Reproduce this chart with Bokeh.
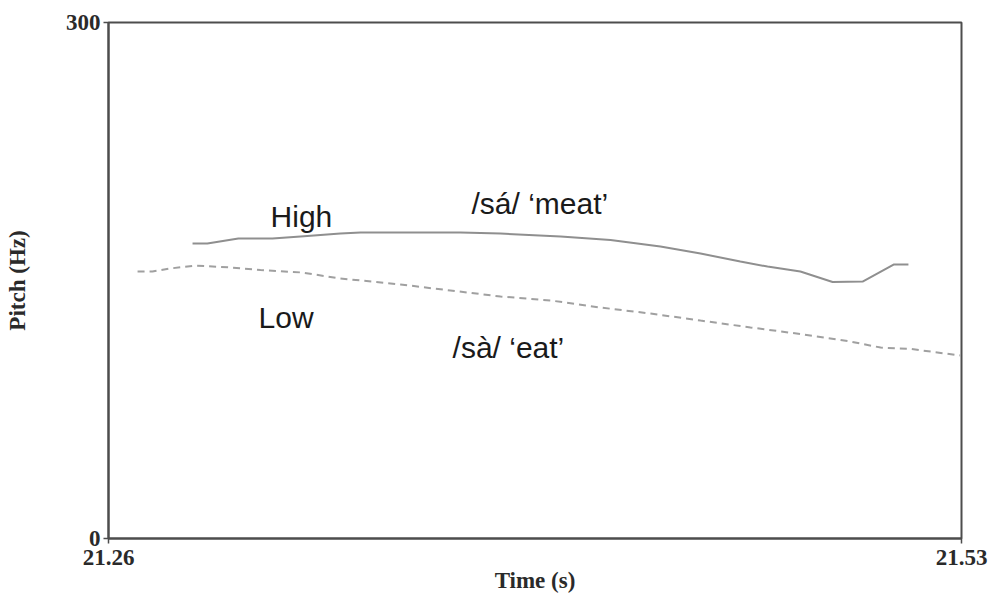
from bokeh.plotting import figure
from bokeh.models import FixedTicker, NumeralTickFormatter, Range1d, Label
from bokeh.embed import file_html
from bokeh.resources import INLINE

# High tone /sá/ 'meat' (solid) : time (s), pitch (Hz)
high_t = [21.2866, 21.2913, 21.3011, 21.3119, 21.3208, 21.3334, 21.3398, 21.3714,
          21.3841, 21.4031, 21.4189, 21.4347, 21.4474, 21.4600, 21.4686, 21.4790,
          21.4892, 21.4987, 21.5085, 21.5132]
high_f = [171.5, 171.5, 174.4, 174.4, 175.6, 177.3, 177.9, 177.9,
          177.3, 175.6, 173.5, 169.8, 165.7, 161.0, 158.1, 155.2,
          149.1, 149.4, 159.3, 159.3]

# Low tone /sà/ 'eat' (dashed)
low_t = [21.2692, 21.2739, 21.2796, 21.2875, 21.2986, 21.3081, 21.3208, 21.3334,
         21.3524, 21.3682, 21.3841, 21.3999, 21.4157, 21.4316, 21.4474, 21.4632,
         21.4790, 21.4949, 21.5044, 21.5139, 21.5297]
low_f = [155.2, 155.2, 157.0, 158.7, 157.6, 156.1, 154.7, 151.2,
         147.7, 144.2, 140.7, 138.4, 134.3, 130.8, 126.7, 122.7,
         118.9, 114.5, 111.0, 110.2, 106.4]

x_ticks = [21.26, 21.53]
y_ticks = [0, 300]

p = figure(width=988, height=598, output_backend="svg", toolbar_location=None,
           x_range=Range1d(21.26, 21.53), y_range=Range1d(0, 300),
           min_border_left=108, min_border_top=22, min_border_right=27, min_border_bottom=60)
p.grid.visible = False
p.background_fill_color = "white"
p.border_fill_color = "white"
p.outline_line_color = "#4d4d4d"
p.outline_line_width = 2

for ax in (p.xaxis[0], p.yaxis[0]):
    ax.axis_line_color = "#4d4d4d"
    ax.axis_line_width = 2
    ax.major_tick_line_color = "#4d4d4d"
    ax.major_tick_line_width = 1.5
    ax.major_tick_in = 0
    ax.major_tick_out = 5
    ax.minor_tick_line_color = None
    ax.major_label_text_font = "Liberation Serif"
    ax.major_label_text_font_size = "23px"
    ax.major_label_text_font_style = "bold"
    ax.major_label_text_color = "#2a2a2a"
    ax.axis_label_text_font = "Liberation Serif"
    ax.axis_label_text_font_size = "23px"
    ax.axis_label_text_font_style = "bold"
    ax.axis_label_text_color = "#2a2a2a"

p.xaxis.ticker = FixedTicker(ticks=x_ticks)
p.xaxis.formatter = NumeralTickFormatter(format="0.00")
p.xaxis.major_label_standoff = 6
p.xaxis.axis_label = "Time (s)"
p.xaxis.axis_label_standoff = 0

p.yaxis.ticker = FixedTicker(ticks=y_ticks)
p.yaxis.major_label_standoff = 3
p.yaxis.axis_label = "Pitch (Hz)"
p.yaxis.axis_label_standoff = 33

p.line(high_t, high_f, line_color="#8f8f8f", line_width=2)
p.line(low_t, low_f, line_color="#a0a0a0", line_width=2, line_dash="7 5")

labels = [
    ("High", 21.3113, 187.2),
    ("/sá/ ‘meat’", 21.3749, 194.8),
    ("Low", 21.3075, 128.7),
    ("/sà/ ‘eat’", 21.3689, 111.0),
]
for txt, lx, ly in labels:
    p.add_layout(Label(x=lx, y=ly, text=txt, text_font="Liberation Sans",
                       text_font_size="30px", text_color="#1a1a1a",
                       text_baseline="alphabetic", text_align="left"))

open("out.html", "w").write(file_html(p, INLINE))
